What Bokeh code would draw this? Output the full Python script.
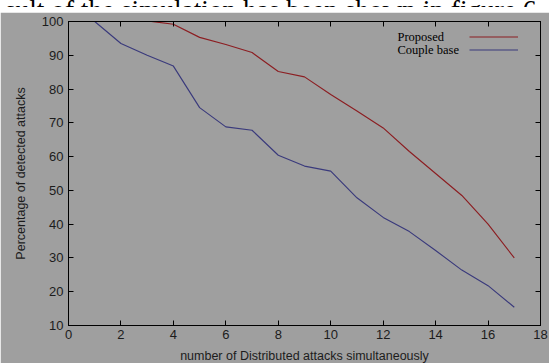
from bokeh.plotting import figure
from bokeh.layouts import column
from bokeh.models import (Range1d, LinearAxis, Legend, LegendItem, Label, FixedTicker,
                          CustomJSTickFormatter, Div, BoxAnnotation)
from bokeh.embed import file_html
from bokeh.resources import INLINE

# ---- data ----
x_proposed = [3, 4, 5, 6, 7, 8, 9, 10, 11, 12, 13, 14, 15, 16, 17]
proposed = [100.2, 99.2, 95.3, 93.2, 90.8, 85.2, 83.6, 78.4, 73.5, 68.5, 61.5, 55.0, 48.5, 40.0, 30.0]
x_couple = [1, 2, 3, 4, 5, 6, 7, 8, 9, 10, 11, 12, 13, 14, 15, 16, 17]
couple_base = [100.0, 93.5, 90.0, 86.8, 74.5, 68.8, 67.8, 60.4, 57.2, 55.7, 47.8, 42.0, 37.8, 32.2, 26.4, 21.8, 15.4]
x_ticks = [0, 2, 4, 6, 8, 10, 12, 14, 16, 18]
y_ticks = [10, 20, 30, 40, 50, 60, 70, 80, 90, 100]
series_names = ["Proposed", "Couple base"]
caption = "sult of the simulation has been shown in figure 6."

GRAY = "#9f9f9f"
RED = "#8c1e22"
BLUE = "#3a3a7c"
TXT = "#1c1c1c"

p = figure(width=549, height=353, output_backend="svg", toolbar_location=None,
           x_range=Range1d(0, 18), y_range=Range1d(10, 100),
           min_border_left=68, min_border_right=9, min_border_top=9, min_border_bottom=35)
p.background_fill_color = GRAY
p.border_fill_color = GRAY
p.outline_line_color = "black"
p.outline_line_width = 1
p.grid.visible = False

# white page strip at the left edge of the scan
p.add_layout(BoxAnnotation(left=-68, right=-58, bottom=-35, top=318,
                           left_units="screen", right_units="screen",
                           bottom_units="screen", top_units="screen",
                           fill_color="white", fill_alpha=1, line_color=None,
                           level="underlay"))

r_red = p.line(x_proposed, proposed, line_color=RED, line_width=1.15)
r_blue = p.line(x_couple, couple_base, line_color=BLUE, line_width=1.15)

def style_axis(ax, labels=True):
    ax.axis_line_color = "black"
    ax.major_tick_line_color = "black"
    ax.major_tick_in = 5
    ax.major_tick_out = 0
    ax.minor_tick_line_color = None
    if labels:
        ax.major_label_text_font = "Liberation Sans"
        ax.major_label_text_font_size = "13px"
        ax.major_label_text_color = TXT
        ax.axis_label_text_font = "Liberation Sans"
        ax.axis_label_text_font_size = "12.5px"
        ax.axis_label_text_font_style = "normal"
        ax.axis_label_text_color = TXT
    else:
        ax.formatter = CustomJSTickFormatter(code="return ''")
        ax.major_label_standoff = 0

xa = p.xaxis[0]
ya = p.yaxis[0]
xa.ticker = FixedTicker(ticks=x_ticks)
ya.ticker = FixedTicker(ticks=y_ticks)
style_axis(xa)
style_axis(ya)
xa.axis_label = "number of Distributed attacks simultaneously"
ya.axis_label = "Percentage of detected attacks"
xa.major_label_standoff = 4
xa.axis_label_standoff = 7
ya.major_label_standoff = 5
ya.axis_label_standoff = 11

top = LinearAxis(ticker=FixedTicker(ticks=x_ticks))
right = LinearAxis(ticker=FixedTicker(ticks=y_ticks))
style_axis(top, labels=False)
style_axis(right, labels=False)
p.add_layout(top, "above")
p.add_layout(right, "right")

# legend: line samples on the right, names to the left
legend = Legend(items=[LegendItem(label=" ", renderers=[r_red]),
                       LegendItem(label=" ", renderers=[r_blue])],
                location=(401, 269), glyph_width=49, glyph_height=13,
                label_height=13, label_width=0, label_standoff=0,
                label_text_font_size="1px", padding=0, spacing=0, margin=0,
                border_line_color=None, background_fill_alpha=0)
p.add_layout(legend, "center")

for name, yy in zip(series_names, [289, 275.7]):
    p.add_layout(Label(x=329, y=yy, x_units="screen", y_units="screen", text=name,
                       text_font="Liberation Serif", text_font_size="12.5px",
                       text_color="black", text_baseline="middle"))

cap = Div(text=f'<div style="margin-top:-15.4px;margin-left:0px;">{caption}</div>',
          width=549, height=10,
          styles={"overflow": "hidden", "background-color": "white",
                  "font-family": "'Liberation Serif', serif", "font-size": "27.3px",
                  "line-height": "27.3px", "white-space": "nowrap", "color": "black"})

layout = column(cap, p, spacing=0, styles={"position": "relative", "top": "-8px"})

open("out.html", "w").write(file_html(layout, INLINE))
